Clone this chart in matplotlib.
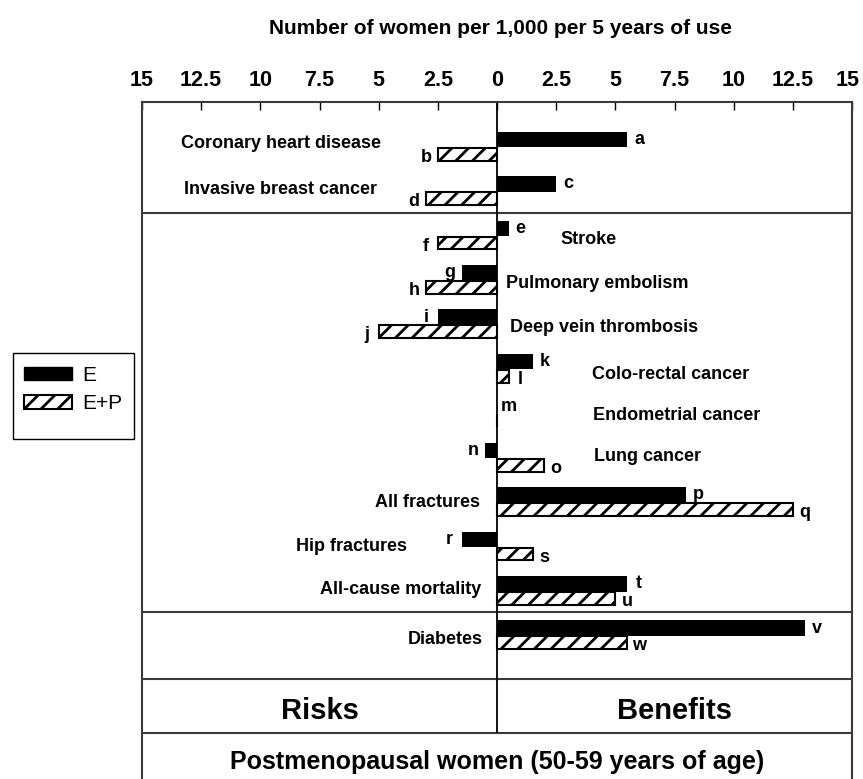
import numpy as np
import matplotlib
matplotlib.use('Agg')
import matplotlib.pyplot as plt
import matplotlib.transforms as mtransforms
from matplotlib import font_manager
from matplotlib.patches import Patch, Rectangle

# data (women per 1,000 per 5 years of use)
categories = ['Coronary heart disease', 'Invasive breast cancer', 'Stroke',
              'Pulmonary embolism', 'Deep vein thrombosis', 'Colo-rectal cancer',
              'Endometrial cancer', 'Lung cancer', 'All fractures', 'Hip fractures',
              'All-cause mortality', 'Diabetes']
e_vals = [5.5, 2.5, 0.5, -1.5, -2.5, 1.5, 0, -0.5, 8, -1.5, 5.5, 13]
ep_vals = [-2.5, -3, -2.5, -3, -5, 0.5, 0, 2, 12.5, 1.5, 5, 5.5]
e_letters = ['a', 'c', 'e', 'g', 'i', 'k', 'm', 'n', 'p', 'r', 't', 'v']
ep_letters = ['b', 'd', 'f', 'h', 'j', 'l', '', 'o', 'q', 's', 'u', 'w']
tick_vals = [-15, -12.5, -10, -7.5, -5, -2.5, 0, 2.5, 5, 7.5, 10, 12.5, 15]

# label layout
label_x = [-9.13, -9.13, 2.70, 0.38, 0.53, 4.0, 4.05, 4.1, -0.72, -3.8, -0.68, -0.6]
label_ha = ['center', 'center', 'left', 'left', 'left', 'left', 'left', 'left',
            'right', 'right', 'right', 'right']
label_dy = [-0.13, -0.09, 0.03, 0.01, 0.02, 0.08, -0.01, -0.08, -0.06, -0.07, -0.08, 0.04]

REG = ['Liberation Sans', 'DejaVu Sans']
installed = {f.name for f in font_manager.fontManager.ttflist}
if 'Liberation Sans Narrow' in installed:
    NARROW = ['Liberation Sans Narrow', 'DejaVu Sans']
    tick_fs, big_fs, foot_fs = 18, 23, 21
else:
    NARROW = REG
    tick_fs, big_fs, foot_fs = 15.5, 21, 18

plt.rcParams['hatch.linewidth'] = 2.0

fig = plt.figure(figsize=(8.63, 7.79), dpi=100)
ax = fig.add_axes([142/863, 0, 710/863, 677/779])

rows = np.arange(len(categories))
y_top, y_bot = -1.02, 14.22
ax.set_xlim(-15, 15)
ax.set_ylim(y_bot, y_top)

ax.barh(rows - 0.35, e_vals, height=0.35, align='edge', color='black', linewidth=0)
ax.barh(rows + 0.01, ep_vals, height=0.29, align='edge', color='white',
        edgecolor='black', hatch='//', linewidth=1.5)

for r, v, t in zip(rows, e_vals, e_letters):
    s = 1 if v >= 0 else -1
    ax.text(v + s * 0.5, r - 0.22, t, ha='center', va='center_baseline',
            family=REG, weight='bold', fontsize=13)
for r, v, t in zip(rows, ep_vals, ep_letters):
    s = 1 if v >= 0 else -1
    ax.text(v + s * 0.5, r + 0.18, t, ha='center', va='center_baseline',
            family=REG, weight='bold', fontsize=13)

for r, name, x, ha, dy in zip(rows, categories, label_x, label_ha, label_dy):
    ax.text(x, r + dy, name, ha=ha, va='center_baseline', family=REG,
            weight='bold', fontsize=13)

# frame pieces
line_col = '#3a3a3a'
ax.hlines([1.48, 10.47, 11.96, 13.18], -15, 15, colors=line_col, linewidth=1.5)
ax.vlines(0, y_top, 13.18, colors='black', linewidth=1.3)
ax.text(-7.5, 12.62, 'Risks', ha='center', va='center_baseline', family=NARROW,
        weight='bold', fontsize=big_fs)
ax.text(7.5, 12.62, 'Benefits', ha='center', va='center_baseline', family=NARROW,
        weight='bold', fontsize=big_fs)
ax.text(0, 13.77, 'Postmenopausal women (50-59 years of age)', ha='center',
        va='center_baseline', family=NARROW, weight='bold', fontsize=foot_fs)

for side in ['left', 'right', 'top']:
    ax.spines[side].set_color(line_col)
    ax.spines[side].set_linewidth(1.5)
ax.spines['bottom'].set_visible(False)

ax.set_yticks([])
ax.xaxis.tick_top()
ax.set_xticks(tick_vals)
ax.set_xticklabels(['%g' % abs(t) for t in tick_vals])
ax.tick_params(axis='x', direction='in', length=6, width=1, pad=8, colors='black')
tlabels = ax.get_xticklabels()
for lbl in tlabels:
    lbl.set_family(NARROW)
    lbl.set_weight('bold')
    lbl.set_fontsize(tick_fs)
# keep the right-hand "15" inside the canvas
shift = mtransforms.ScaledTranslation(-4/100, 0, fig.dpi_scale_trans)
tlabels[-1].set_transform(tlabels[-1].get_transform() + shift)

fig.text(500/863, 1 - 27/779, 'Number of women per 1,000 per 5 years of use',
         ha='center', va='center_baseline', family=REG, weight='bold', fontsize=15)

# legend: entries without frame, box drawn separately (it is taller than the entries)
handles = [Patch(facecolor='black', edgecolor='black', label='E'),
           Patch(facecolor='white', edgecolor='black', hatch='//', linewidth=1.5, label='E+P')]
leg = fig.legend(handles=handles, loc='upper left', bbox_to_anchor=(24/863, 1 - 366/779),
                 prop={'family': REG, 'size': 15}, handlelength=2.3, handleheight=0.6,
                 labelspacing=0.45, handletextpad=0.5, borderpad=0, frameon=False,
                 borderaxespad=0)
fig.patches.append(Rectangle((12.6/863, 1 - 439/779), 121.4/863, 86/779,
                             transform=fig.transFigure, fill=False,
                             edgecolor='black', linewidth=1.0))

fig.savefig('out.png', dpi=100, facecolor='white')
